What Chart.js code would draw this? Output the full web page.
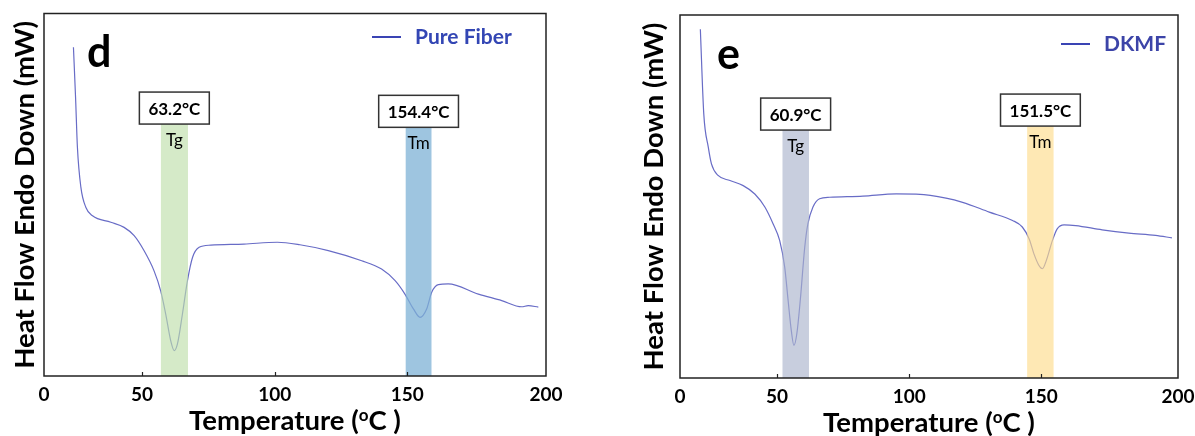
<!DOCTYPE html>
<html>
<head>
<meta charset="utf-8">
<script src="https://cdn.jsdelivr.net/npm/chart.js@4.4.0/dist/chart.umd.min.js"></script>
<style>
  body { margin: 0; background: #fff; width: 1195px; height: 436px; overflow: hidden; }
  canvas { position: absolute; top: 0; }
  #chartD { left: 0; }
  #chartE { left: 597px; }
</style>
</head>
<body>
<canvas id="chartD" width="597" height="436"></canvas>
<canvas id="chartE" width="598" height="436"></canvas>
<script>
// x axis is hand-labelled in the figure: the plot edges carry "0" and "200"
var tickValuesD = [13, 50, 100, 150, 202.3];
var tickValuesE = [13.3, 50, 100, 150, 201.7];
var tickLabels = ['0', '50', '100', '150', '200'];
var innerTicks = [50, 100, 150];
var bandNames = ['Tg', 'Tm'];

// Pure Fiber (panel d)
var fiberTemp = [24.1, 24.9, 25.6, 26.9, 28.8, 31.3, 38.2, 43.2, 47.0, 50.7, 54.5, 57.0, 58.9, 60.8, 62.1, 63.3, 65.2, 67.1, 69.0, 71.5, 75.9, 88.4, 101.0, 109.5, 120.2, 132.8, 140.3, 145.4, 149.1, 152.3, 154.8, 157.3, 159.2, 161.7, 165.4, 176.8, 185.6, 193.1, 195.6, 199.4];
var fiberHeat = [90.7, 76.9, 63.1, 52.1, 46.5, 44.2, 42.4, 41.0, 38.7, 34.6, 29.0, 23.5, 17.1, 9.7, 7.0, 8.8, 17.1, 26.3, 32.7, 35.5, 36.1, 36.4, 36.9, 36.2, 34.6, 31.8, 29.5, 26.3, 22.6, 18.5, 16.2, 18.5, 23.1, 25.2, 25.4, 22.6, 20.8, 19.1, 19.4, 19.0];
var fiberBandFrom = [57.0, 149.3];
var fiberBandTo = [67.3, 159.2];
var fiberBandTop = [69.5, 68.6];
var fiberPeaks = ['63.2°C', '154.4°C'];

// DKMF (panel e)
var dkmfTemp = [21.0, 22.3, 24.0, 25.2, 27.7, 32.2, 37.2, 41.6, 45.4, 48.5, 51.0, 52.9, 54.2, 55.4, 56.4, 57.5, 58.8, 60.5, 61.7, 63.6, 66.1, 69.9, 82.5, 95.1, 108.0, 120.2, 130.3, 139.1, 142.8, 145.4, 147.2, 149.1, 150.4, 151.9, 154.2, 156.0, 158.6, 163.0, 173.0, 183.1, 193.2, 199.4];
var dkmfHeat = [96.1, 72.7, 63.6, 59.0, 55.8, 54.4, 53.0, 50.7, 47.1, 42.5, 37.9, 30.6, 21.4, 13.1, 9.0, 12.2, 21.4, 36.1, 42.5, 47.1, 49.4, 49.8, 50.1, 50.7, 50.3, 48.4, 45.7, 43.4, 41.6, 38.3, 34.2, 31.0, 30.1, 32.4, 37.9, 41.1, 42.2, 42.0, 40.8, 39.9, 39.3, 38.6];
var dkmfBandFrom = [52.0, 144.6];
var dkmfBandTo = [62.1, 154.7];
var dkmfBandTop = [68.3, 69.4];
var dkmfPeaks = ['60.9°C', '151.5°C'];

var FONT = 'Lato, "Open Sans", sans-serif';

function toPoints(xs, ys) {
	return xs.map(function(x, i) { return { x: x, y: ys[i] }; });
}

// frame, inward ticks, x title, legend, panel letter, peak boxes
var decorPlugin = {
	id: 'decor',
	afterDatasetsDraw: function(chart, args, o) {
		var ctx = chart.ctx;
		var xs = chart.scales.x, ys = chart.scales.y;
		o.bandFrom.forEach(function(from, i) {
			var cx = xs.getPixelForValue((from + o.bandTo[i]) / 2);
			var top = ys.getPixelForValue(o.bandTop[i]);
			ctx.save();
			ctx.font = 'bold 17px ' + FONT;
			var w = ctx.measureText(o.peaks[i]).width + 18;
			var h = 32;
			ctx.fillStyle = '#fff';
			ctx.fillRect(cx - w / 2, top - h, w, h);
			ctx.strokeStyle = '#333';
			ctx.lineWidth = 1.5;
			ctx.strokeRect(cx - w / 2, top - h, w, h);
			ctx.fillStyle = '#000';
			ctx.textAlign = 'center';
			ctx.textBaseline = 'middle';
			ctx.fillText(o.peaks[i], cx, top - h / 2 + 1);
			ctx.font = '17px ' + FONT;
			ctx.fillText(bandNames[i], cx, top + 16);
			ctx.restore();
		});
	},
	afterDraw: function(chart, args, o) {
		var ctx = chart.ctx;
		var ca = chart.chartArea;
		var xs = chart.scales.x;
		ctx.save();
		// box around plot
		ctx.strokeStyle = '#222';
		ctx.lineWidth = 1.5;
		ctx.strokeRect(ca.left, ca.top, ca.right - ca.left, ca.bottom - ca.top);
		// small ticks pointing into the plot
		ctx.lineWidth = 1.2;
		innerTicks.forEach(function(v) {
			var px = Math.round(xs.getPixelForValue(v)) + 0.5;
			ctx.beginPath();
			ctx.moveTo(px, ca.bottom);
			ctx.lineTo(px, ca.bottom - 4);
			ctx.stroke();
		});
		// x title with raised o
		var base = ca.bottom + 54;
		var cx = (ca.left + ca.right) / 2;
		var big = 'bold 27.5px ' + FONT, small = 'bold 17px ' + FONT;
		ctx.fillStyle = '#000';
		ctx.textBaseline = 'alphabetic';
		ctx.textAlign = 'left';
		ctx.font = big;
		var p1 = 'Temperature (', p3 = 'C )';
		var w1 = ctx.measureText(p1).width, w3 = ctx.measureText(p3).width;
		ctx.font = small;
		var w2 = ctx.measureText('o').width;
		var x0 = cx - (w1 + w2 + w3) / 2;
		ctx.font = big;
		ctx.fillText(p1, x0, base);
		ctx.font = small;
		ctx.fillText('o', x0 + w1, base - 9);
		ctx.font = big;
		ctx.fillText(p3, x0 + w1 + w2, base);
		// legend
		var ds = chart.data.datasets[o.curveIndex];
		ctx.strokeStyle = '#3a44b4';
		ctx.lineWidth = 2;
		ctx.beginPath();
		ctx.moveTo(ca.left + o.legendX, ca.top + o.legendY);
		ctx.lineTo(ca.left + o.legendX + 29, ca.top + o.legendY);
		ctx.stroke();
		ctx.font = 'bold 21px ' + FONT;
		ctx.fillStyle = o.legendColor;
		ctx.textBaseline = 'middle';
		ctx.fillText(ds.label, ca.left + o.legendX + 43, ca.top + o.legendY);
		// panel letter
		ctx.font = 'bold 43px ' + FONT;
		ctx.fillStyle = '#000';
		ctx.textBaseline = 'alphabetic';
		ctx.fillText(o.letter, ca.left + o.letterX, ca.top + o.letterY);
		ctx.restore();
	}
};

function makeChart(id, cfg) {
	var datasets = cfg.bandFrom.map(function(from, i) {
		return {
			label: bandNames[i],
			data: [{ x: from, y: cfg.bandTop[i] }, { x: cfg.bandTo[i], y: cfg.bandTop[i] }],
			borderWidth: 0,
			pointRadius: 0,
			fill: 'start',
			backgroundColor: cfg.bandColors[i]
		};
	});
	datasets.push({
		label: cfg.label,
		data: toPoints(cfg.temp, cfg.heat),
		borderColor: '#686cc6',
		borderWidth: 1.2,
		pointRadius: 0,
		fill: false,
		cubicInterpolationMode: 'monotone'
	});
	return new Chart(document.getElementById(id), {
		type: 'line',
		data: { datasets: datasets },
		options: {
			responsive: false,
			animation: false,
			layout: { padding: cfg.padding },
			plugins: {
				legend: { display: false },
				tooltip: { enabled: false },
				decor: {
					bandFrom: cfg.bandFrom, bandTo: cfg.bandTo, bandTop: cfg.bandTop, peaks: cfg.peaks,
					curveIndex: datasets.length - 1,
					legendX: cfg.legendX, legendY: cfg.legendY, legendColor: cfg.legendColor,
					letter: cfg.letter, letterX: cfg.letterX, letterY: cfg.letterY
				}
			},
			scales: {
				x: {
					type: 'linear',
					min: cfg.ticks[0],
					max: cfg.ticks[cfg.ticks.length - 1],
					grid: { display: false, drawTicks: false },
					border: { display: false },
					afterBuildTicks: function(scale) {
						scale.ticks = cfg.ticks.map(function(v) { return { value: v }; });
					},
					afterFit: function(scale) {
						scale.height = cfg.xHeight;
						// edge labels may hang outside the plot, as in the figure
						scale.paddingLeft = 0;
						scale.paddingRight = 0;
					},
					ticks: {
						autoSkip: false,
						maxRotation: 0,
						padding: 7,
						color: '#000',
						font: { family: FONT, size: 19, weight: 'bold' },
						callback: function(value, index) { return tickLabels[index]; }
					}
				},
				y: {
					type: 'linear',
					min: 0,
					max: 100,
					grid: { display: false, drawTicks: false },
					border: { display: false },
					ticks: { display: false },
					afterFit: function(scale) { scale.width = cfg.yWidth; },
					title: {
						display: true,
						text: 'Heat Flow Endo Down (mW)',
						color: '#000',
						padding: { top: cfg.yTitlePad, bottom: 0 },
						font: { family: FONT, size: 27.5, weight: 'bold' }
					}
				}
			}
		},
		plugins: [decorPlugin]
	});
}

makeChart('chartD', {
	label: 'Pure Fiber',
	temp: fiberTemp, heat: fiberHeat,
	bandFrom: fiberBandFrom, bandTo: fiberBandTo, bandTop: fiberBandTop, peaks: fiberPeaks,
	bandColors: ['rgba(190,222,170,0.65)', 'rgba(126,177,213,0.75)'],
	ticks: tickValuesD,
	padding: { left: 0, right: 51, top: 13.5, bottom: 0 },
	yWidth: 44, xHeight: 60, yTitlePad: 9,
	legendX: 328, legendY: 23.5, legendColor: '#3346b4',
	letter: 'd', letterX: 43, letterY: 53.5
});

makeChart('chartE', {
	label: 'DKMF',
	temp: dkmfTemp, heat: dkmfHeat,
	bandFrom: dkmfBandFrom, bandTo: dkmfBandTo, bandTop: dkmfBandTop, peaks: dkmfPeaks,
	bandColors: ['rgba(170,180,204,0.65)', 'rgba(253,220,140,0.65)'],
	ticks: tickValuesE,
	padding: { left: 0, right: 17, top: 15, bottom: 0 },
	yWidth: 83, xHeight: 58, yTitlePad: 41,
	legendX: 381, legendY: 29, legendColor: '#3c44a8',
	letter: 'e', letterX: 37, letterY: 54
});
</script>
</body>
</html>
